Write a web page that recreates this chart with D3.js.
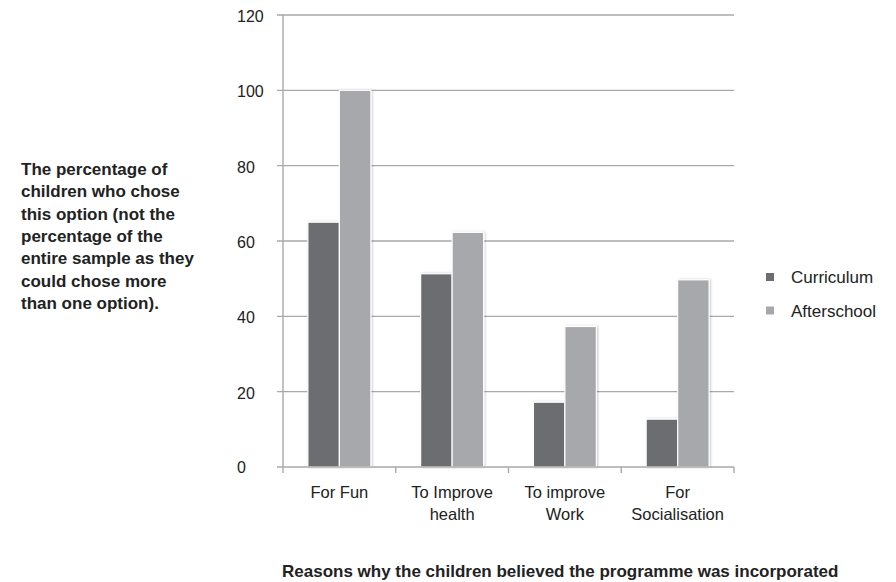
<!DOCTYPE html>
<html>
<head>
<meta charset="utf-8">
<script src="https://cdn.jsdelivr.net/npm/d3@7.9.0/dist/d3.min.js"></script>
<style>
  body { margin: 0; background: #fff; }
  svg { display: block; font-family: "Liberation Sans", Arial, Helvetica, sans-serif; }
</style>
</head>
<body>
<svg width="896" height="582"></svg>
<script>
// data
const categories = [["For Fun"], ["To Improve", "health"], ["To improve", "Work"], ["For", "Socialisation"]];
const series = ["Curriculum", "Afterschool"];
const curriculum = [65, 51.3, 17.2, 12.7];
const afterschool = [100, 62.3, 37.3, 49.7];
const yTicks = [0, 20, 40, 60, 80, 100, 120];
const colors = ["#6c6d71", "#a7a8ab"];
const yTitle = ["The percentage of", "children who chose", "this option (not the",
  "percentage of the", "entire sample as they", "could chose more", "than one option)."];
const xTitle = "Reasons why the children believed the programme was incorporated";

const svg = d3.select("svg");
const gridColor = "#a9a9a9";

const catKeys = categories.map(c => c.join(" "));
const x0 = d3.scaleBand().domain(catKeys).range([283, 734]);
const x1 = d3.scaleBand().domain(series).range([0, x0.bandwidth()]).paddingOuter(0.79);
const y = d3.scaleLinear().domain([0, 120]).range([467, 15]);

// shadow for bars
const defs = svg.append("defs");
defs.append("filter").attr("id", "shadow")
  .attr("x", "-20%").attr("y", "-5%").attr("width", "140%").attr("height", "110%")
  .append("feDropShadow")
  .attr("dx", 1).attr("dy", 0).attr("stdDeviation", 1)
  .attr("flood-color", "#000").attr("flood-opacity", 0.22);

// gridlines with left ticks
svg.append("g").selectAll("line").data(yTicks.slice(1)).join("line")
  .attr("x1", 277).attr("x2", 734)
  .attr("y1", d => y(d)).attr("y2", d => y(d))
  .attr("stroke", gridColor).attr("stroke-width", 1.4);

// y axis labels
svg.append("g").selectAll("text").data(yTicks).join("text")
  .attr("x", 237).attr("y", d => y(d) + (d === 0 ? 5.5 : 7))
  .attr("font-size", 16).attr("fill", "#222")
  .text(d => d);

// bars
const rows = catKeys.map((k, i) => ({ key: k, values: [curriculum[i], afterschool[i]] }));
const groups = svg.append("g").selectAll("g").data(rows).join("g")
  .attr("transform", d => `translate(${x0(d.key)},0)`);
groups.selectAll("rect").data(d => d.values.map((v, j) => ({ s: series[j], v, j }))).join("rect")
  .attr("x", d => x1(d.s))
  .attr("width", x1.bandwidth())
  .attr("y", d => y(d.v))
  .attr("height", d => y(0) - y(d.v))
  .attr("fill", d => colors[d.j])
  .attr("stroke", "#fff").attr("stroke-width", 1.2)
  .attr("filter", "url(#shadow)");

// axes lines
svg.append("line").attr("x1", 283).attr("x2", 283).attr("y1", y(120)).attr("y2", 473)
  .attr("stroke", gridColor).attr("stroke-width", 1.4);
svg.append("line").attr("x1", 277).attr("x2", 734).attr("y1", y(0)).attr("y2", y(0))
  .attr("stroke", gridColor).attr("stroke-width", 1.4);
const bounds = catKeys.map(k => x0(k)).concat([x0.range()[1]]);
svg.append("g").selectAll("line").data(bounds.slice(1)).join("line")
  .attr("x1", d => d).attr("x2", d => d)
  .attr("y1", y(0)).attr("y2", 473)
  .attr("stroke", gridColor).attr("stroke-width", 1.4);

// category labels
const catLabels = svg.append("g").selectAll("text").data(categories).join("text")
  .attr("x", (d, i) => x0(catKeys[i]) + x0.bandwidth() / 2)
  .attr("y", 497.5)
  .attr("text-anchor", "middle")
  .attr("font-size", 16.5).attr("fill", "#222");
catLabels.selectAll("tspan").data(d => d).join("tspan")
  .attr("x", function () { return d3.select(this.parentNode).attr("x"); })
  .attr("dy", (d, i) => i === 0 ? 0 : 22.5)
  .text(d => d);

// legend
const legend = svg.append("g").selectAll("g").data(series).join("g")
  .attr("transform", (d, i) => `translate(0,${i * 33.5})`);
legend.append("rect").attr("x", 766).attr("y", 273).attr("width", 8).attr("height", 8)
  .attr("fill", (d, i) => colors[i]);
legend.append("text").attr("x", 791).attr("y", 283)
  .attr("font-size", 17).attr("fill", "#222").text(d => d);

// left title
svg.append("text")
  .attr("font-size", 17).attr("font-weight", "bold").attr("fill", "#222")
  .selectAll("tspan").data(yTitle).join("tspan")
  .attr("x", 21).attr("y", (d, i) => 175 + i * 22.3)
  .text(d => d);

// bottom title
svg.append("text").attr("x", 282).attr("y", 577)
  .attr("font-size", 17).attr("font-weight", "bold").attr("fill", "#222")
  .text(xTitle);
</script>
</body>
</html>
